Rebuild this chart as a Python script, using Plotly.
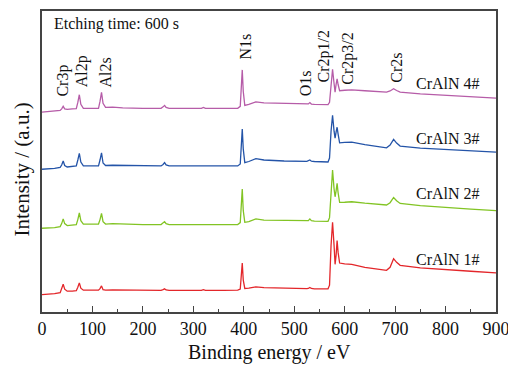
import plotly.graph_objects as go

energy = [0, 15, 25, 36, 39, 42, 45, 50, 60, 68, 71, 74, 77, 82, 95, 112, 115, 118, 121, 126,
          140, 160, 200, 236, 240, 243, 246, 252, 300, 316, 320, 324, 360, 388, 393, 395, 397,
          399, 402, 410, 424, 440, 480, 525, 528, 531, 534, 540, 567, 570, 573, 576, 579, 581,
          583, 585, 587, 590, 600, 614, 640, 683, 690, 697, 703, 710, 750, 800, 850, 900]

craln1 = [17.5, 18, 18.5, 19.5, 23, 28, 23, 21, 21, 21.5, 25, 29.3, 24, 22, 22, 22, 23.5, 26.3, 22.5, 22,
          22.2, 22, 21.7, 21.7, 22.5, 23.3, 22.2, 21.7, 21.7, 21.7, 22.5, 21.8, 21.8, 22, 23, 37, 49.3,
          32, 23.7, 24, 25.3, 24.5, 23.7, 23.5, 23.7, 24.7, 23.7, 23.3, 23.3, 27, 67, 90.3, 67, 48,
          57, 72, 60, 49.3, 48.5, 48, 45, 42, 45, 53.7, 50, 47, 44.5, 42.5, 41, 39.3]

craln2 = [84.3, 84.3, 85, 86, 89, 93.7, 89, 87, 87.5, 88, 93, 99.7, 92, 88.5, 88.5, 88.5, 93, 99.3, 91, 88.5,
          89, 88.5, 88, 88, 89.5, 91, 89, 88, 88, 88, 88.7, 88, 88, 88, 90, 107, 123.7,
          102, 90.3, 91, 93.7, 92.5, 92, 91.7, 92, 93.7, 92, 91.5, 91.3, 95, 122, 143, 124, 116,
          122, 129.5, 120, 110.3, 110.5, 111, 109.5, 107.7, 110, 115.3, 112, 109.3, 107, 105, 103.5, 102]

craln3 = [143.7, 144, 144.5, 145.5, 148, 152, 147.5, 146, 146.5, 147, 153, 159.7, 151, 147, 147, 147, 153, 160.3, 150, 147.5,
          147.7, 147.5, 147, 147, 148.5, 150.3, 148, 147, 147, 147, 147.7, 147, 147, 147, 149, 167, 184.3,
          164, 150.3, 151.5, 154.3, 153, 152, 151.7, 152, 153, 151.8, 151.5, 151, 155, 182, 198, 182, 175,
          181, 186, 179, 170.3, 170.7, 171, 168.5, 165.3, 168, 173.7, 170, 167, 165, 163.5, 162, 161]

craln4 = [201.3, 201.7, 202, 203, 204.5, 207, 204.5, 204, 204.5, 204.7, 211, 218.7, 209, 205, 205, 205, 212, 221, 210, 206,
          206.2, 205.5, 205, 205, 206.5, 208, 206, 205, 205, 205, 206, 205, 205, 205, 207, 224, 243.7,
          222, 208, 209, 211.5, 210.5, 209.7, 209.2, 209.5, 210.8, 209.3, 209, 208.7, 211, 232, 244.3, 230, 221.3,
          229, 234.7, 229, 222.7, 223.2, 223.7, 222.7, 221.3, 222.5, 224.7, 223, 221.3, 219.5, 218, 216.5, 215.3]

series_names = ["CrAlN 1#", "CrAlN 2#", "CrAlN 3#", "CrAlN 4#"]
series_values = [craln1, craln2, craln3, craln4]
series_colors = ["#e3262a", "#82c424", "#2454a8", "#b65ca8"]
series_label_y = [53, 119, 175, 230]

peak_labels = ["Cr3p", "Al2p", "Al2s", "N1s", "O1s", "Cr2p1/2", "Cr2p3/2", "Cr2s"]
peak_label_x = [42, 81, 125, 404, 523, 559, 605, 702]
peak_label_y = [215, 224, 224, 252, 215, 229, 227, 229]

x_tick_vals = [0, 100, 200, 300, 400, 500, 600, 700, 800, 900]

FONT = "Liberation Serif, Times New Roman, serif"

fig = go.Figure()
for name, vals, col in zip(series_names, series_values, series_colors):
    fig.add_trace(go.Scatter(x=energy, y=vals, mode="lines", name=name,
                             line=dict(color=col, width=1.3), showlegend=False))

for name, ly in zip(series_names, series_label_y):
    fig.add_annotation(x=873, y=ly, text=name, showarrow=False, xanchor="right", yanchor="middle",
                       font=dict(family=FONT, size=16, color="#111"))

for lab, lx, ly in zip(peak_labels, peak_label_x, peak_label_y):
    fig.add_annotation(x=lx, y=ly, text=lab, showarrow=False, textangle=-90,
                       xanchor="center", yanchor="bottom",
                       font=dict(family=FONT, size=16, color="#111"))

fig.add_annotation(x=20, y=290, text="Etching time: 600 s", showarrow=False,
                   xanchor="left", yanchor="middle", font=dict(family=FONT, size=16, color="#111"))

# axis titles
fig.add_annotation(xref="paper", yref="paper", x=0.5, y=-0.134, text="Binding energy / eV",
                   showarrow=False, xanchor="center", yanchor="middle",
                   font=dict(family=FONT, size=20, color="#111"))
fig.add_annotation(xref="paper", yref="paper", x=-0.044, y=0.4736, text="Intensity / (a.u.)",
                   showarrow=False, textangle=-90, xanchor="center", yanchor="middle",
                   font=dict(family=FONT, size=21, color="#111"))

fig.update_layout(
    width=508, height=362,
    margin=dict(l=34, r=20, t=1, b=58),
    plot_bgcolor="white", paper_bgcolor="white",
    font=dict(family=FONT, color="#111"),
)
fig.update_xaxes(range=[0, 900], tickvals=x_tick_vals, ticks="inside", ticklen=6, tickwidth=1.2,
                 tickcolor="#444", showline=True, linecolor="#444", linewidth=1.5, mirror=True,
                 showgrid=False, zeroline=False, tickfont=dict(family=FONT, size=18, color="#111"),
                 minor=dict(dtick=50, ticks="inside", ticklen=3, tickcolor="#444", tickwidth=1))
fig.update_yaxes(range=[0, 303], showticklabels=False, ticks="", showline=True, linecolor="#444",
                 linewidth=1.5, mirror=True, showgrid=False, zeroline=False)

fig.write_html("out.html")
